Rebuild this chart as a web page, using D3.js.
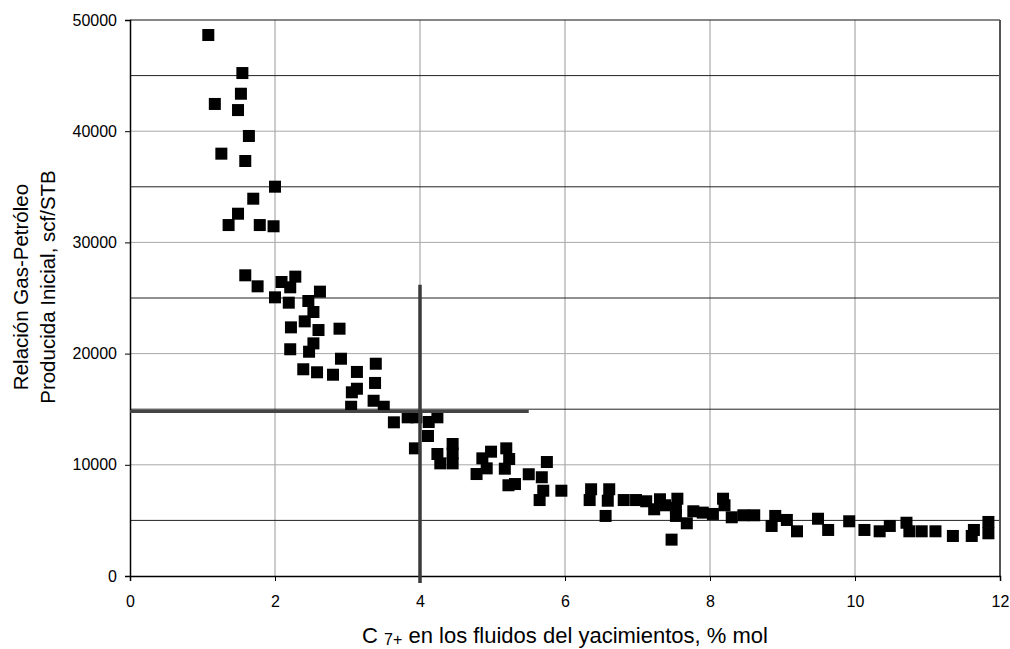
<!DOCTYPE html>
<html lang="es">
<head>
<meta charset="UTF-8">
<title>RGP inicial vs C7+</title>
<style>
  body { margin: 0; background: #fff; }
  svg { display: block; font-family: "Liberation Sans", Arial, sans-serif; }
  .title { fill: #000; }
</style>
<script src="https://d3js.org/d3.v7.min.js"></script>
</head>
<body>
<svg width="1010" height="649"></svg>
<script>
  // C7+ (% mol)
  const c7 = [
    1.08, 1.55, 1.53, 1.17, 1.49, 1.64, 1.26, 1.59, 2.00, 1.70, 1.49, 1.36, 1.79, 1.98,
    1.59, 1.76, 2.09, 2.28, 2.21, 2.62, 2.00, 2.19, 2.46, 2.53, 2.41, 2.22, 2.60, 2.89,
    2.53, 2.21, 2.47, 2.91, 2.39, 2.58, 2.80, 3.13, 3.39, 3.38, 3.13, 3.06, 3.05, 3.36,
    3.50, 3.64, 3.83, 3.95, 4.12, 4.24, 4.11, 3.93, 4.24, 4.28, 4.45, 4.45, 4.45,
    4.78, 4.92, 4.86, 4.98, 5.19, 5.23, 5.17, 5.22, 5.31, 5.50, 5.68, 5.75, 5.70, 5.65,
    5.95, 6.36, 6.34, 6.61, 6.59, 6.56, 6.81, 6.98, 7.12, 7.23, 7.31, 7.38, 7.55, 7.53,
    7.53, 7.47, 7.68, 7.77, 7.90, 8.04, 8.18, 8.20, 8.30, 8.46, 8.61, 8.85, 8.90, 9.06,
    9.20, 9.49, 9.63, 9.92, 10.13, 10.34, 10.48, 10.71, 10.75, 10.92, 11.11, 11.35,
    11.61, 11.64, 11.84, 11.84
  ];
  // RGP inicial (scf/STB)
  const rgp = [
    48650, 45230, 43370, 42450, 41900, 39570, 37980, 37320, 35010, 33930, 32580, 31560, 31560, 31450,
    27040, 26050, 26440, 26920, 25960, 25570, 25060, 24580, 24730, 23740, 22900, 22360, 22120, 22240,
    20920, 20390, 20170, 19540, 18590, 18320, 18100, 18350, 19090, 17360, 16840, 16520, 15220, 15760,
    15220, 13820, 14270, 14270, 13850, 14270, 12590, 11480, 10970, 10130, 11870, 11030, 10130,
    9170, 9680, 10580, 11180, 11480, 10520, 9650, 8160, 8270, 9150, 8880, 10250, 7670, 6830,
    7670, 7800, 6830, 7800, 6770, 5400, 6830, 6830, 6720, 6000, 6900, 6360, 6950, 6120,
    5400, 3270, 4740, 5820, 5700, 5580, 6950, 6360, 5280, 5460, 5460, 4500, 5400, 5040,
    4020, 5150, 4140, 4920, 4140, 4020, 4500, 4790, 4020, 4020, 4020, 3600,
    3600, 4140, 4860, 3840
  ];
  const xTicks = [0, 2, 4, 6, 8, 10, 12];
  const yTicks = [0, 10000, 20000, 30000, 40000, 50000];
  const yMinor = [5000, 15000, 25000, 35000, 45000];
  // lineas de referencia (C7+ = 4 %, RGP ~ 14800)
  const refX = 4, refXTop = 26200;
  const refY = 14800, refYEnd = 5.5;

  const svg = d3.select("svg");
  const mLeft = 130, mRight = 1000, mTop = 20, mBottom = 576;

  const x = d3.scaleLinear().domain([0, 12]).range([mLeft, mRight]);
  const y = d3.scaleLinear().domain([0, 50000]).range([mBottom, mTop]);

  // grid
  svg.append("g").selectAll("line").data(xTicks.filter(d => d > 0 && d < 12)).join("line")
    .attr("x1", d => x(d)).attr("x2", d => x(d))
    .attr("y1", mTop).attr("y2", mBottom)
    .attr("stroke", "#999").attr("stroke-width", 1);
  svg.append("g").selectAll("line").data(yTicks.filter(d => d > 0 && d < 50000)).join("line")
    .attr("x1", mLeft).attr("x2", mRight)
    .attr("y1", d => y(d)).attr("y2", d => y(d))
    .attr("stroke", "#a8a8a8").attr("stroke-width", 1);
  svg.append("g").selectAll("line").data(yMinor).join("line")
    .attr("x1", mLeft).attr("x2", mRight)
    .attr("y1", d => y(d)).attr("y2", d => y(d))
    .attr("stroke", "#222").attr("stroke-width", 1);

  // borde superior / derecho
  svg.append("line").attr("x1", mLeft).attr("x2", mRight).attr("y1", mTop).attr("y2", mTop)
    .attr("stroke", "#111").attr("stroke-width", 1.2);
  svg.append("line").attr("x1", mRight).attr("x2", mRight).attr("y1", mTop).attr("y2", mBottom)
    .attr("stroke", "#555").attr("stroke-width", 2);

  // ejes
  const xAxis = svg.append("g").attr("transform", `translate(0,${mBottom})`)
    .call(d3.axisBottom(x).tickValues(xTicks).tickSize(5).tickPadding(15).tickFormat(d3.format("d")));
  const yAxis = svg.append("g").attr("transform", `translate(${mLeft},0)`)
    .call(d3.axisLeft(y).tickValues(yTicks).tickSize(5).tickPadding(8).tickFormat(d3.format("d")));
  [xAxis, yAxis].forEach(a => {
    a.select(".domain").attr("stroke", "#000").attr("stroke-width", 1.5);
    a.selectAll(".tick line").attr("stroke", "#000");
    a.selectAll(".tick text").attr("fill", "#000")
      .style("font-family", "'Liberation Sans', Arial, sans-serif").style("font-size", "16px");
  });

  // puntos
  const sz = 12;
  svg.append("g").selectAll("rect").data(c7.map((d, i) => [d, rgp[i]])).join("rect")
    .attr("x", d => x(d[0]) - sz / 2).attr("y", d => y(d[1]) - sz / 2)
    .attr("width", sz).attr("height", sz)
    .attr("fill", "#000");

  // lineas de referencia
  svg.append("line")
    .attr("x1", x(0)).attr("x2", x(refYEnd)).attr("y1", y(refY)).attr("y2", y(refY))
    .attr("stroke", "#444").attr("stroke-width", 3);
  svg.append("line")
    .attr("x1", x(refX)).attr("x2", x(refX)).attr("y1", y(refXTop)).attr("y2", mBottom + 7)
    .attr("stroke", "#3a3a3a").attr("stroke-width", 3.5);

  // titulos
  const xt = svg.append("text").attr("class", "title").style("font-size", "22px")
    .attr("x", (mLeft + mRight) / 2).attr("y", 643).attr("text-anchor", "middle");
  xt.append("tspan").text("C ");
  xt.append("tspan").text("7+").style("font-size", "16px").attr("dy", 2);
  xt.append("tspan").text(" en los fluidos del yacimientos, % mol").attr("dy", -2);

  const yt = svg.append("text").attr("class", "title").style("font-size", "20.5px")
    .attr("transform", `translate(28,287) rotate(-90)`)
    .attr("text-anchor", "middle");
  yt.append("tspan").attr("x", 0).attr("dy", 0).text("Relación Gas-Petróleo");
  yt.append("tspan").attr("x", 0).attr("dy", 27).text("Producida Inicial, scf/STB");
</script>
</body>
</html>
